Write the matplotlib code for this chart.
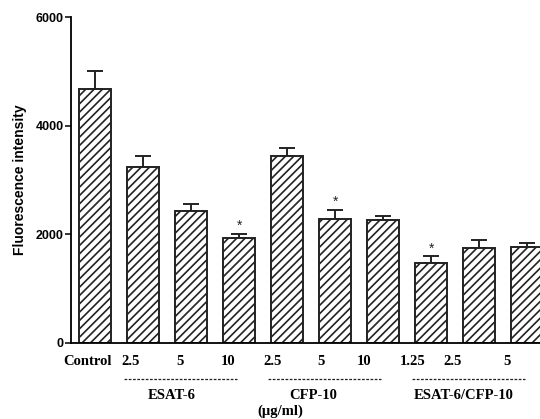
import matplotlib
matplotlib.use('Agg')
import matplotlib.pyplot as plt
import numpy as np

plt.rcParams['hatch.linewidth'] = 1.2

# data
labels = ["Control", "2.5", "5", "10", "2.5", "5", "10", "1.25", "2.5", "5"]
values = [4670, 3245, 2433, 1935, 3434, 2286, 2255, 1481, 1757, 1775]
errors = [330, 200, 130, 75, 155, 165, 80, 120, 135, 63]
starred = [3, 5, 7]
groups = ["ESAT-6", "CFP-10", "ESAT-6/CFP-10"]
group_bars = [(1, 3), (4, 6), (7, 9)]
unit_label = "(\u00b5g/ml)"
yticks = [0, 2000, 4000, 6000]

x = np.arange(len(values))

fig = plt.figure(figsize=(5.4, 4.19), dpi=100)
ax = fig.add_axes([0.131, 0.1814, 0.869, 0.778])

ax.bar(x, values, width=0.667, color='white', edgecolor='#222222',
       linewidth=1.4, hatch='////', zorder=2)
ax.errorbar(x, values, yerr=[np.zeros(len(errors)), errors], fmt='none',
            ecolor='#222222', elinewidth=1.4, capsize=6, capthick=1.4, zorder=1)

for i in starred:
    ax.text(x[i], values[i] + errors[i] + 140, '*', ha='center', va='center',
            fontsize=10, fontfamily='Liberation Sans', color='#222222')

ax.set_xlim(-0.506, 9.27)
ax.set_ylim(0, 6000)
ax.set_yticks(yticks)
ax.set_yticklabels([str(t) for t in yticks], fontfamily='Liberation Sans',
                   fontweight='bold', fontsize=9)
ax.tick_params(axis='y', length=4, width=1.1, pad=1)
ax.set_xticks([])
for s in ['top', 'right']:
    ax.spines[s].set_visible(False)
ax.spines['left'].set_linewidth(1.3)
ax.spines['bottom'].set_linewidth(1.3)
ax.spines['left'].set_bounds(0, 6000)

ax.set_ylabel("Fluorescence intensity", fontfamily='Liberation Sans',
              fontweight='bold', fontsize=10, labelpad=6)

# x labels, slightly left of the bar centres as in the reference
label_shift = [-0.15, -0.27, -0.23, -0.23, -0.3, -0.3, -0.4, -0.38, -0.55, -0.42]
group_shift = [-0.17, -0.22, -0.1]
serif = dict(fontfamily='Liberation Serif', fontweight='bold', fontsize=10.5,
             ha='center', va='center', transform=ax.get_xaxis_transform())
for i, lab in enumerate(labels):
    ax.text(x[i] + label_shift[i], -0.057, lab, **serif)

for (a, b), g, sh in zip(group_bars, groups, group_shift):
    left = x[a] - 0.4
    right = x[b] - 0.05
    ax.plot([left, right], [-0.11, -0.11], transform=ax.get_xaxis_transform(),
            clip_on=False, color='#222222', linewidth=0.9, linestyle=(0, (2.2, 1.2)))
    ax.text((left + right) / 2 + sh, -0.16, g, **serif)

ax.text(3.85, -0.208, unit_label, **serif)

plt.savefig('out.png', dpi=100)
